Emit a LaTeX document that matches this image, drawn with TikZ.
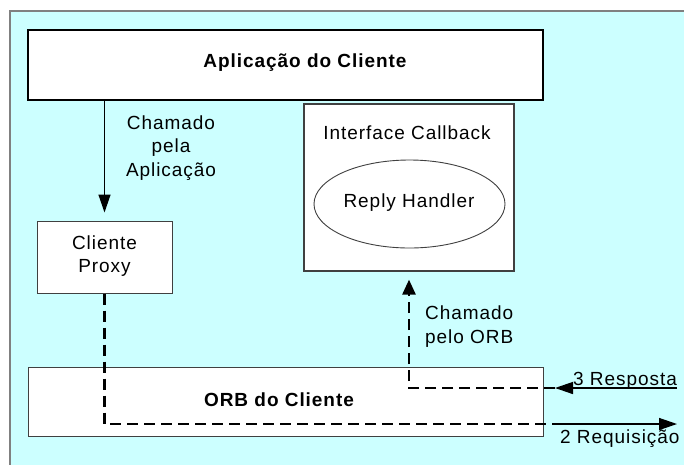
\documentclass[tikz,border=0pt]{standalone}
\usepackage{fontspec}
\setmainfont{Liberation Sans}[LetterSpace=5]
\usetikzlibrary{arrows.meta,shapes.geometric,calc}
\definecolor{panel}{HTML}{CCFFFF}
\definecolor{framegray}{HTML}{808080}
\definecolor{edgegray}{HTML}{404040}

\begin{document}
\begin{tikzpicture}[x=1pt,y=-1pt,
  txt/.style={font=\fontsize{19}{23.5}\selectfont, inner sep=0pt},
  bold/.style={font=\fontsize{19}{23.5}\selectfont\bfseries, inner sep=0pt},
  box/.style={draw=edgegray, line width=1pt, fill=white, inner sep=0pt},
  solidarrow/.style={line width=1.4pt, -{Triangle[length=18pt,width=12pt]}},
  dashline/.style={line width=2.6pt, dash pattern=on 11pt off 6pt},
  dashtip/.style={-{Triangle[length=15pt,width=13pt]}}
]
% page and panel
\fill[white] (0,0) rectangle (684,464);
\useasboundingbox (0,0) rectangle (684,464);
\fill[panel] (10,11) rectangle (690,470);
\draw[framegray, line width=1.2pt] (10,470) -- (10,11) -- (690,11);

% boxes
\node[box, draw=black, line width=1.4pt, minimum width=515pt, minimum height=70pt] (app) at (285.5,65) {};
\node[bold] (apptext) at (305,63) {Aplicação do Cliente};

\node[box, line width=1.2pt, minimum width=210pt, minimum height=167pt] (cb) at (409,187.5) {};
\node[txt] (cbtext) at (407,133) {Interface Callback};
\node[draw=edgegray, line width=0.9pt, ellipse, fill=white, minimum width=191pt, minimum height=88pt, inner sep=0pt] (rh) at (409.5,204) {};
\node[txt] (rhtext) at (409,203) {Reply Handler};

\node[box, minimum width=135pt, minimum height=72pt, align=center] (proxy) at (104.5,257) {};
\node[txt, align=center] (proxytext) at (104.5,256) {Cliente\\Proxy};

\node[box, minimum width=515pt, minimum height=69pt] (orb) at (285.5,401.5) {};
\node[bold] (orbtext) at (279,400) {ORB do Cliente};

% labels
\node[txt, align=center] (lblapp) at (171,148) {Chamado\\pela\\Aplicação};
\node[txt, align=left, anchor=west] (lblorb) at (425,326.5) {Chamado\\pelo ORB};
\node[txt, anchor=base west] (lblresp) at (573,385) {3 Resposta};
\node[txt, anchor=base west] (lblreq) at (560,443) {2 Requisição};

% connector end points
\coordinate (reqMid) at (553,424);
\coordinate (reqEnd) at (677,424);
\coordinate (respStart) at (677,388);
\coordinate (respTip) at (555,388);

% call from the application to the proxy
\draw[solidarrow, shorten >=8pt] (app.south -| proxy.north) -- (proxy.north);

% request path through the ORB
\draw[dashline] (proxy.south) -- (proxy.south |- reqMid) -- (reqMid);
\draw[solidarrow] (reqMid) -- (reqEnd);

% reply path back to the callback interface
\draw[solidarrow] (respStart) -- (respTip);
\draw[dashline] (respTip) -- (respTip -| cb.south) -- ($(cb.south)+(0,20)$);
\draw[line width=2.6pt, dashtip, shorten >=8pt] ($(cb.south)+(0,22)$) -- (cb.south);
\end{tikzpicture}
\end{document}
